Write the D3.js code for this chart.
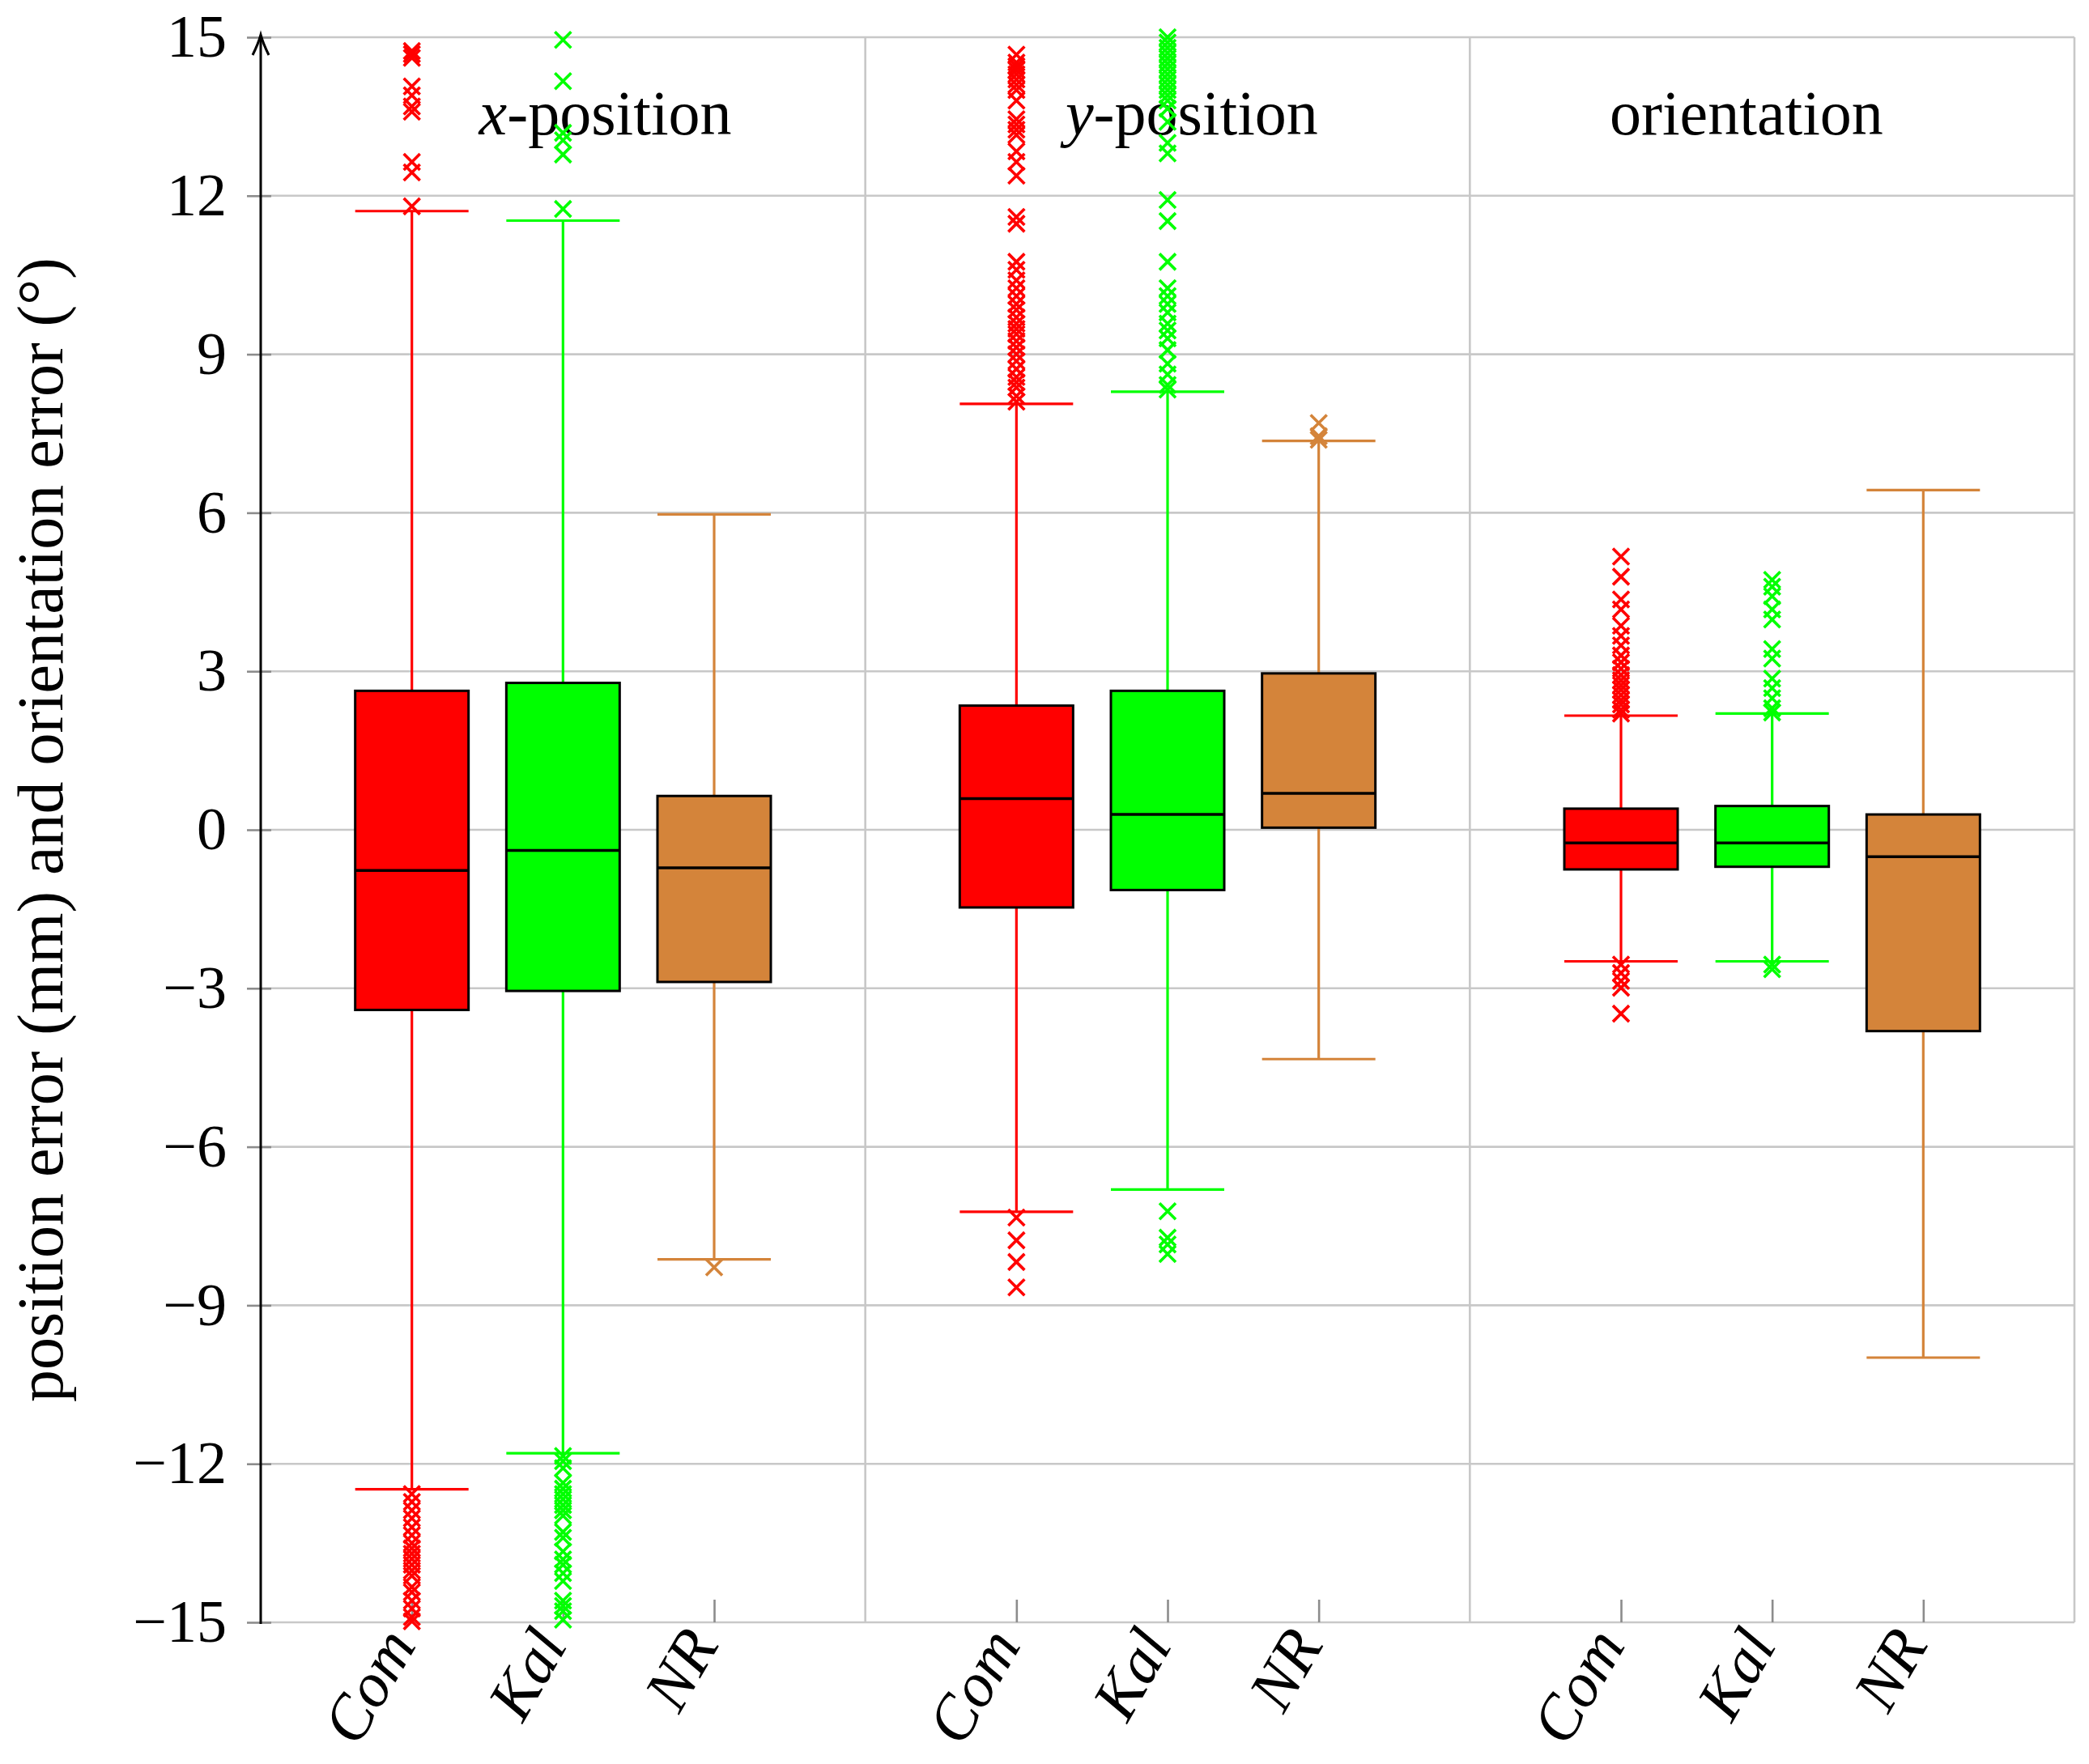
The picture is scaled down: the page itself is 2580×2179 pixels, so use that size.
<!DOCTYPE html>
<html>
<head>
<meta charset="utf-8">
<script src="https://cdn.jsdelivr.net/npm/d3@7"></script>
<style>
	body { margin: 0; background: #fff; }
	text { font-family: "Liberation Serif", "DejaVu Serif", serif; fill: #000; }
</style>
</head>
<body>
<svg id="chart" width="2580" height="2179"></svg>
<script>
//---------------data--------------------------------------------
const groups = ['-position', '-position', 'orientation'];
const groupVar = ['x', 'y', '']; // italic part of the panel title
const methods = ['Com', 'Kal', 'NR'];
const colors = ['#ff0000', '#00ff00', '#d4843a'];
const yTicks = [-15, -12, -9, -6, -3, 0, 3, 6, 9, 12, 15];

// one entry per box: Com, Kal, NR of x-position, then y-position, then orientation
const whiskLow  = [-12.48, -11.80, -8.13,  -7.23, -6.81, -4.34,  -2.49, -2.49, -9.99];
const boxLow    = [-3.41,  -3.05,  -2.88,  -1.47, -1.14,  0.04,  -0.75, -0.70, -3.81];
const medians   = [-0.77,  -0.39,  -0.72,   0.59,  0.29,  0.69,  -0.25, -0.25, -0.51];
const boxHigh   = [ 2.63,   2.78,   0.64,   2.35,  2.63,  2.96,   0.40,  0.45,  0.29];
const whiskHigh = [11.71,  11.53,   5.97,   8.06,  8.29,  7.36,   2.16,  2.20,  6.43];

const outliers = [
	[14.74, 14.68, 14.61, 14.07, 13.90, 13.69, 13.59, 12.64, 12.44, 11.80,
	 -12.57, -12.72, -12.88, -13.03, -13.2, -13.35, -13.5, -13.6, -13.7, -13.8, -13.91,
	 -14.02, -14.12, -14.33, -14.43, -14.59, -14.74, -14.9, -14.98],
	[14.95, 14.17, 13.19, 13.05, 12.78, 11.75,
	 -11.85, -11.95, -12.08, -12.36, -12.47, -12.57, -12.67, -12.78, -12.88, -12.98,
	 -13.29, -13.40, -13.66, -13.81, -13.91, -14.07, -14.22, -14.59, -14.69, -14.79, -14.95],
	[-8.28],
	[14.67, 14.52, 14.45, 14.38, 14.3, 14.2, 14.1, 14.0, 13.8, 13.45, 13.35, 13.25, 13.15,
	 12.84, 12.64, 12.38, 11.6, 11.47, 10.75, 10.6, 10.4, 10.25, 10.1, 9.95, 9.84, 9.7,
	 9.58, 9.48, 9.38, 9.25, 9.13, 9.0, 8.87, 8.72, 8.57, 8.47, 8.37, 8.21, 8.1,
	 -7.34, -7.77, -8.18, -8.66],
	[15.0, 14.9, 14.8, 14.7, 14.6, 14.5, 14.4, 14.3, 14.2, 14.1, 14.0, 13.9, 13.8, 13.65,
	 13.4, 13.0, 12.8, 11.92, 11.52, 10.75, 10.25, 10.1, 9.95, 9.79, 9.58, 9.45, 9.3,
	 9.08, 8.82, 8.62, 8.42, 8.33, -7.22, -7.72, -7.85, -8.03],
	[7.7, 7.45, 7.38],
	[5.17, 4.79, 4.36, 4.17, 3.86, 3.67, 3.49, 3.3, 3.17, 3.05, 2.93, 2.83, 2.74, 2.65,
	 2.55, 2.45, 2.37, 2.27, 2.2, -2.55, -2.71, -2.86, -2.99, -3.48],
	[4.73, 4.6, 4.42, 4.17, 3.98, 3.42, 3.24, 2.86, 2.68, 2.49, 2.30, 2.22, -2.55, -2.64],
	[]
];

//---------------layout-----------------------
const svg = d3.select('#chart');
const x = d3.scaleLinear().domain([0, 12]).range([322, 2562]);
const y = d3.scaleLinear().domain([-15, 15]).range([2004, 46]);
const boxW = x(0.75) - x(0);
const titleX = [2.28, 6.16, 9.83]; // panel title centres, axis units

// each box sits at group*4 + method + 1 on the x axis
const boxes = d3.range(9).map(i => ({i: i, g: Math.floor(i / 3), m: i % 3, pos: Math.floor(i / 3) * 4 + i % 3 + 1}));

//---------------grid-----------------------
const grid = svg.append('g').attr('stroke', '#c8c8c8').attr('stroke-width', 2.6);

grid.selectAll('.hgrid').data(yTicks).enter().append('line')
	.attr('x1', x(0)).attr('x2', x(12))
	.attr('y1', d => y(d)).attr('y2', d => y(d));

grid.selectAll('.vgrid').data(groups.map((g, i) => (i + 1) * 4)).enter().append('line')
	.attr('x1', d => x(d)).attr('x2', d => x(d))
	.attr('y1', y(-15)).attr('y2', y(15));

//---------------axes-----------------------
const yAxis = svg.append('g')
	.attr('transform', `translate(${x(0)},0)`)
	.call(d3.axisLeft(y).tickValues(yTicks).tickSize(17).tickPadding(25)
		.tickFormat(d => d < 0 ? '\u2212' + Math.abs(d) : d));
yAxis.select('.domain').remove();
yAxis.attr('font-family', null);
yAxis.selectAll('line').attr('x1', 13).attr('stroke', '#8c8c8c').attr('stroke-width', 2.6);
yAxis.selectAll('text').attr('font-size', 74);

const xAxis = svg.append('g')
	.attr('transform', `translate(0,${y(-15)})`)
	.call(d3.axisBottom(x).tickValues(boxes.map(b => b.pos)).tickSize(-28)
		.tickFormat((d, i) => methods[i % 3]));
xAxis.select('.domain').remove();
xAxis.attr('font-family', null);
xAxis.selectAll('line').attr('stroke', '#8c8c8c').attr('stroke-width', 2.6);
xAxis.selectAll('text')
	.attr('x', 0).attr('y', 0).attr('dy', 0)
	.attr('text-anchor', 'end')
	.attr('font-size', 78).attr('font-style', 'italic')
	.attr('transform', 'translate(6,28) rotate(-60)');

// vertical axis with arrow head
svg.append('line')
	.attr('x1', x(0)).attr('x2', x(0))
	.attr('y1', y(-15) + 2).attr('y2', y(15) - 2)
	.attr('stroke', '#000').attr('stroke-width', 3);
svg.append('path')
	.attr('d', `M${x(0) - 10},${y(15) + 22} Q${x(0) - 3},${y(15) + 8} ${x(0)},${y(15) - 3} Q${x(0) + 3},${y(15) + 8} ${x(0) + 10},${y(15) + 22}`)
	.attr('fill', 'none').attr('stroke', '#000').attr('stroke-width', 3);

svg.append('text')
	.attr('transform', `translate(77,${(y(-15) + y(15)) / 2}) rotate(-90)`)
	.attr('text-anchor', 'middle')
	.attr('font-size', 80)
	.text('position error (mm) and orientation error (\u00b0)');

//---------------panel titles-----------------------
const titles = svg.selectAll('.title').data(groups).enter().append('text')
	.attr('x', (d, i) => x(titleX[i]))
	.attr('y', 166)
	.attr('text-anchor', 'middle')
	.attr('font-size', 78);
titles.append('tspan').attr('font-style', 'italic').text((d, i) => groupVar[i]);
titles.append('tspan').text(d => d);

//---------------boxes-----------------------
const gBox = svg.append('g');

// whiskers and caps
gBox.selectAll('.whisk').data(boxes).enter().append('path')
	.attr('d', b => `M${x(b.pos)},${y(whiskLow[b.i])}V${y(boxLow[b.i])}M${x(b.pos)},${y(boxHigh[b.i])}V${y(whiskHigh[b.i])}`
		+ `M${x(b.pos) - boxW / 2},${y(whiskLow[b.i])}h${boxW}M${x(b.pos) - boxW / 2},${y(whiskHigh[b.i])}h${boxW}`)
	.attr('fill', 'none')
	.attr('stroke', b => colors[b.m])
	.attr('stroke-width', 3.2);

gBox.selectAll('.box').data(boxes).enter().append('rect')
	.attr('x', b => x(b.pos) - boxW / 2)
	.attr('width', boxW)
	.attr('y', b => y(boxHigh[b.i]))
	.attr('height', b => y(boxLow[b.i]) - y(boxHigh[b.i]))
	.attr('fill', b => colors[b.m])
	.attr('stroke', '#000').attr('stroke-width', 3);

gBox.selectAll('.median').data(boxes).enter().append('line')
	.attr('x1', b => x(b.pos) - boxW / 2).attr('x2', b => x(b.pos) + boxW / 2)
	.attr('y1', b => y(medians[b.i])).attr('y2', b => y(medians[b.i]))
	.attr('stroke', '#000').attr('stroke-width', 3.6);

//---------------outliers-----------------------
const s = 10;
gBox.selectAll('.out').data(boxes.flatMap(b => outliers[b.i].map(v => ({v: v, b: b})))).enter().append('path')
	.attr('transform', d => `translate(${x(d.b.pos)},${y(d.v)})`)
	.attr('d', `M${-s},${-s}L${s},${s}M${-s},${s}L${s},${-s}`)
	.attr('fill', 'none')
	.attr('stroke', d => colors[d.b.m])
	.attr('stroke-width', 3.6);
</script>
</body>
</html>
